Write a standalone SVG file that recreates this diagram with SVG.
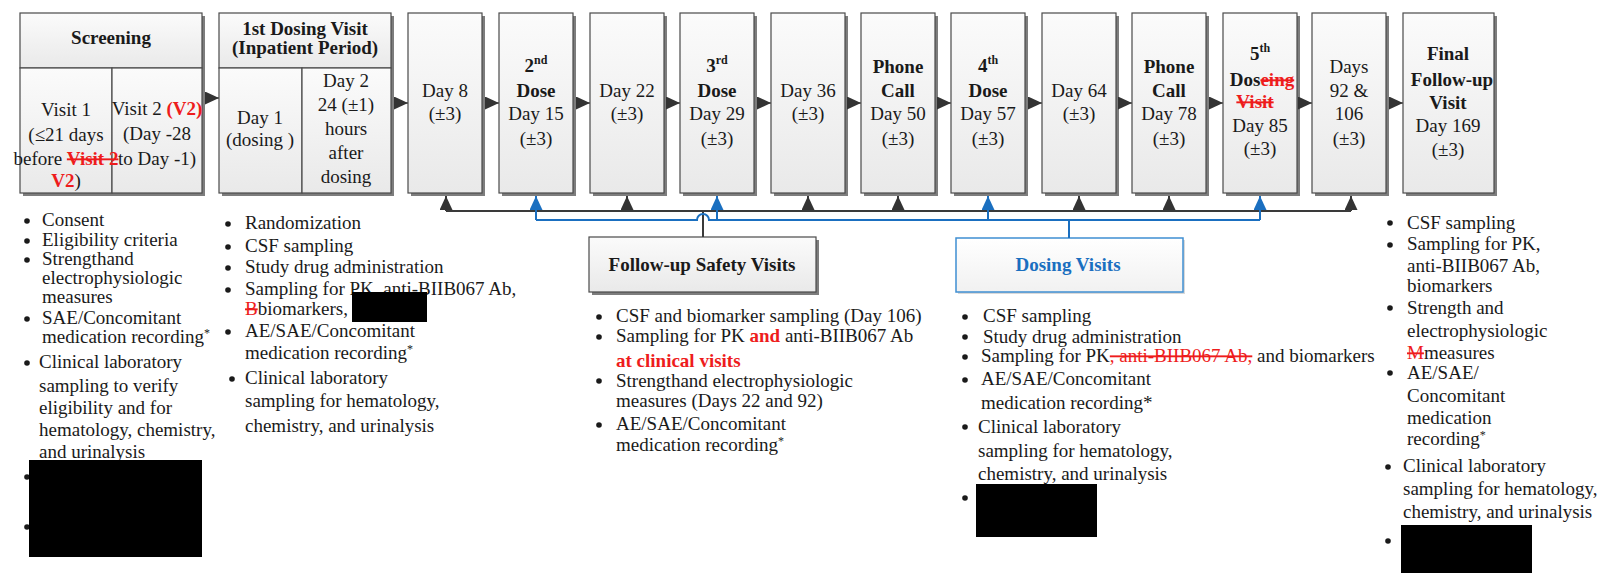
<svg xmlns="http://www.w3.org/2000/svg" width="1599" height="573" viewBox="0 0 1599 573">
<defs>
<linearGradient id="g" x1="0" y1="0" x2="0" y2="1">
<stop offset="0" stop-color="#fbfbfb"/>
<stop offset="1" stop-color="#e9e9e9"/>
</linearGradient>
<linearGradient id="gb" x1="0" y1="0" x2="0" y2="1">
<stop offset="0" stop-color="#ffffff"/>
<stop offset="1" stop-color="#f1f1f1"/>
</linearGradient>
<marker id="ad" markerUnits="userSpaceOnUse" markerWidth="16" markerHeight="16" refX="14" refY="6.5" orient="auto">
<path d="M0,0 L14,6.5 L0,13 z" fill="#333"/>
</marker>
<marker id="ab" markerUnits="userSpaceOnUse" markerWidth="16" markerHeight="16" refX="14" refY="6.5" orient="auto">
<path d="M0,0 L14,6.5 L0,13 z" fill="#1a6fc0"/>
</marker>
</defs>
<style>
.box{fill:url(#g);stroke:#4a4a4a;stroke-width:1.2}
.sh{fill:#7d7d7d}
.t{font-family:"Liberation Serif","Times New Roman",serif;font-size:19px;fill:#1a1a1a}
.b{font-weight:bold}
.m{text-anchor:middle}
.red{fill:#ee1c1c}
.st{text-decoration:line-through}
.sup{font-size:12px}
.bul{fill:#1a1a1a}
.cd{stroke:#3a3a3a;stroke-width:2;fill:none}
.cb{stroke:#1a6fc0;stroke-width:2;fill:none}
.fl{stroke:#555;stroke-width:1.5;fill:none}
.blk{fill:#000}
</style>
<rect width="1599" height="573" fill="#fff"/>

<g id="screening">
<rect class="sh" x="23" y="16" width="182" height="180"/>
<rect class="box" x="20" y="13" width="182" height="55"/>
<rect class="box" x="20" y="68" width="92" height="125"/>
<rect class="box" x="112" y="68" width="90" height="125"/>
<text class="t b m" x="111" y="44">Screening</text>
<text class="t m" x="66" y="116">Visit 1</text>
<text class="t m" x="66" y="141">(≤21 days</text>
<text class="t m" x="66" y="165">before <tspan class="b red st">Visit 2</tspan></text>
<text class="t m" x="66" y="187"><tspan class="b red">V2</tspan>)</text>
<text class="t m" x="157" y="115">Visit 2 <tspan class="b red">(V2)</tspan></text>
<text class="t m" x="157" y="140">(Day -28</text>
<text class="t m" x="157" y="165">to Day -1)</text>
</g>

<g id="dosing1">
<rect class="sh" x="222" y="16" width="172" height="180"/>
<rect class="box" x="219" y="13" width="172" height="55"/>
<rect class="box" x="219" y="68" width="83" height="125"/>
<rect class="box" x="302" y="68" width="89" height="125"/>
<text class="t b m" x="305" y="35">1st Dosing Visit</text>
<text class="t b m" x="305" y="54">(Inpatient Period)</text>
<text class="t m" x="260" y="124">Day  1</text>
<text class="t m" x="260" y="146">(dosing )</text>
<text class="t m" x="346" y="87">Day  2</text>
<text class="t m" x="346" y="111">24 (±1)</text>
<text class="t m" x="346" y="135">hours</text>
<text class="t m" x="346" y="159">after</text>
<text class="t m" x="346" y="183">dosing</text>
</g>

<g id="day8">
<rect class="sh" x="411" y="16" width="74" height="180"/>
<rect class="box" x="408" y="13" width="74" height="180"/>
<text class="t m" x="445" y="97">Day  8</text>
<text class="t m" x="445" y="120">(±3)</text>
</g>

<g id="dose2">
<rect class="sh" x="502" y="16" width="74" height="180"/>
<rect class="box" x="499" y="13" width="74" height="180"/>
<text class="t b m" x="536" y="72">2<tspan class="sup" dy="-8">nd</tspan></text>
<text class="t b m" x="536" y="97">Dose</text>
<text class="t m" x="536" y="120">Day  15</text>
<text class="t m" x="536" y="145">(±3)</text>
</g>

<g id="day22">
<rect class="sh" x="593" y="16" width="74" height="180"/>
<rect class="box" x="590" y="13" width="74" height="180"/>
<text class="t m" x="627" y="97">Day  22</text>
<text class="t m" x="627" y="120">(±3)</text>
</g>

<g id="dose3">
<rect class="sh" x="683" y="16" width="74" height="180"/>
<rect class="box" x="680" y="13" width="74" height="180"/>
<text class="t b m" x="717" y="72">3<tspan class="sup" dy="-8">rd</tspan></text>
<text class="t b m" x="717" y="97">Dose</text>
<text class="t m" x="717" y="120">Day  29</text>
<text class="t m" x="717" y="145">(±3)</text>
</g>

<g id="day36">
<rect class="sh" x="774" y="16" width="74" height="180"/>
<rect class="box" x="771" y="13" width="74" height="180"/>
<text class="t m" x="808" y="97">Day  36</text>
<text class="t m" x="808" y="120">(±3)</text>
</g>

<g id="phone50">
<rect class="sh" x="864" y="16" width="74" height="180"/>
<rect class="box" x="861" y="13" width="74" height="180"/>
<text class="t b m" x="898" y="73">Phone</text>
<text class="t b m" x="898" y="97">Call</text>
<text class="t m" x="898" y="120">Day  50</text>
<text class="t m" x="898" y="145">(±3)</text>
</g>

<g id="dose4">
<rect class="sh" x="954" y="16" width="74" height="180"/>
<rect class="box" x="951" y="13" width="74" height="180"/>
<text class="t b m" x="988" y="72">4<tspan class="sup" dy="-8">th</tspan></text>
<text class="t b m" x="988" y="97">Dose</text>
<text class="t m" x="988" y="120">Day  57</text>
<text class="t m" x="988" y="145">(±3)</text>
</g>

<g id="day64">
<rect class="sh" x="1045" y="16" width="74" height="180"/>
<rect class="box" x="1042" y="13" width="74" height="180"/>
<text class="t m" x="1079" y="97">Day  64</text>
<text class="t m" x="1079" y="120">(±3)</text>
</g>

<g id="phone78">
<rect class="sh" x="1135" y="16" width="74" height="180"/>
<rect class="box" x="1132" y="13" width="74" height="180"/>
<text class="t b m" x="1169" y="73">Phone</text>
<text class="t b m" x="1169" y="97">Call</text>
<text class="t m" x="1169" y="120">Day  78</text>
<text class="t m" x="1169" y="145">(±3)</text>
</g>

<g id="dose5">
<rect class="sh" x="1226" y="16" width="74" height="180"/>
<rect class="box" x="1223" y="13" width="74" height="180"/>
<text class="t b m" x="1260" y="60">5<tspan class="sup" dy="-8">th</tspan></text>
<text class="t b m" x="1262" y="86">Dos<tspan class="red st">eing</tspan></text>
<text class="t b m red st" x="1255" y="108">Visit</text>
<text class="t m" x="1260" y="132">Day  85</text>
<text class="t m" x="1260" y="155">(±3)</text>
</g>

<g id="days92">
<rect class="sh" x="1315" y="16" width="74" height="180"/>
<rect class="box" x="1312" y="13" width="74" height="180"/>
<text class="t m" x="1349" y="73">Days</text>
<text class="t m" x="1349" y="97">92 &amp;</text>
<text class="t m" x="1349" y="120">106</text>
<text class="t m" x="1349" y="145">(±3)</text>
</g>

<g id="final">
<rect class="sh" x="1406" y="16" width="91" height="180"/>
<rect class="box" x="1403" y="13" width="91" height="180"/>
<text class="t b m" x="1448" y="60">Final</text>
<text class="t b m" x="1452" y="86">Follow-up</text>
<text class="t b m" x="1448" y="109">Visit</text>
<text class="t m" x="1448" y="132">Day  169</text>
<text class="t m" x="1448" y="156">(±3)</text>
</g>

<g id="followup">
<rect class="sh" x="592" y="240" width="227" height="55"/>
<rect class="box" x="589" y="237" width="227" height="55"/>
<text class="t b m" x="702" y="271">Follow-up Safety Visits</text>
</g>

<g id="dosingvisits">
<rect x="958" y="240" width="227" height="54" fill="#d9d9d9"/>
<rect x="956" y="238" width="227" height="54" fill="url(#gb)" stroke="#3f8fd2" stroke-width="1.5"/>
<text class="t b m" x="1068" y="271" style="fill:#1a6fc0">Dosing Visits</text>
</g>

<g id="connectors">
<line class="fl" x1="205" y1="98" x2="219" y2="98" marker-end="url(#ad)"/>
<line class="fl" x1="394" y1="103" x2="408" y2="103" marker-end="url(#ad)"/>
<line class="fl" x1="485" y1="103" x2="499" y2="103" marker-end="url(#ad)"/>
<line class="fl" x1="576" y1="103" x2="590" y2="103" marker-end="url(#ad)"/>
<line class="fl" x1="666" y1="103" x2="680" y2="103" marker-end="url(#ad)"/>
<line class="fl" x1="757" y1="103" x2="771" y2="103" marker-end="url(#ad)"/>
<line class="fl" x1="847" y1="103" x2="861" y2="103" marker-end="url(#ad)"/>
<line class="fl" x1="937" y1="103" x2="951" y2="103" marker-end="url(#ad)"/>
<line class="fl" x1="1028" y1="103" x2="1042" y2="103" marker-end="url(#ad)"/>
<line class="fl" x1="1118" y1="103" x2="1132" y2="103" marker-end="url(#ad)"/>
<line class="fl" x1="1209" y1="103" x2="1223" y2="103" marker-end="url(#ad)"/>
<line class="fl" x1="1298" y1="103" x2="1312" y2="103" marker-end="url(#ad)"/>
<line class="fl" x1="1389" y1="103" x2="1403" y2="103" marker-end="url(#ad)"/>

<path class="cd" d="M446,211 H1351"/>
<path class="cd" d="M446,211 V196" marker-end="url(#ad)"/>
<path class="cd" d="M627,211 V196" marker-end="url(#ad)"/>
<path class="cd" d="M808,211 V196" marker-end="url(#ad)"/>
<path class="cd" d="M898,211 V196" marker-end="url(#ad)"/>
<path class="cd" d="M1079,211 V196" marker-end="url(#ad)"/>
<path class="cd" d="M1169,211 V196" marker-end="url(#ad)"/>
<path class="cd" d="M1351,211 V196" marker-end="url(#ad)"/>
<path class="cd" d="M703,237 V211"/>

<path class="cb" d="M536,220 H697 A6,6 0 0 1 709,220 H1260"/>
<path class="cb" d="M536,220 V196" marker-end="url(#ab)"/>
<path class="cb" d="M717,220 V196" marker-end="url(#ab)"/>
<path class="cb" d="M988,220 V196" marker-end="url(#ab)"/>
<path class="cb" d="M1260,220 V196" marker-end="url(#ab)"/>
<path class="cb" d="M1069,238 V220"/>
</g>

<g id="screening-list">
<circle class="bul" cx="27" cy="221" r="2.8"/>
<circle class="bul" cx="27" cy="241" r="2.8"/>
<circle class="bul" cx="27" cy="260" r="2.8"/>
<circle class="bul" cx="27" cy="319" r="2.8"/>
<circle class="bul" cx="27" cy="363" r="2.8"/>
<circle class="bul" cx="27" cy="477" r="2.8"/>
<circle class="bul" cx="27" cy="527" r="2.8"/>
<text class="t" x="42" y="226">Consent</text>
<text class="t" x="42" y="246">Eligibility criteria</text>
<text class="t" x="42" y="265">Strengthand</text>
<text class="t" x="42" y="284">electrophysiologic</text>
<text class="t" x="42" y="303">measures</text>
<text class="t" x="42" y="324">SAE/Concomitant</text>
<text class="t" x="42" y="343">medication recording<tspan class="sup" dy="-6">*</tspan></text>
<text class="t" x="39" y="368">Clinical laboratory</text>
<text class="t" x="39" y="392">sampling to verify</text>
<text class="t" x="39" y="414">eligibility and for</text>
<text class="t" x="39" y="436">hematology, chemistry,</text>
<text class="t" x="39" y="458">and urinalysis</text>
<rect class="blk" x="29" y="460" width="173" height="97"/>
</g>

<g id="dosing1-list">
<circle class="bul" cx="228" cy="224" r="2.8"/>
<circle class="bul" cx="228" cy="247" r="2.8"/>
<circle class="bul" cx="228" cy="268" r="2.8"/>
<circle class="bul" cx="228" cy="290" r="2.8"/>
<circle class="bul" cx="228" cy="332" r="2.8"/>
<circle class="bul" cx="232" cy="379" r="2.8"/>
<text class="t" x="245" y="229">Randomization</text>
<text class="t" x="245" y="252">CSF sampling</text>
<text class="t" x="245" y="273">Study drug administration</text>
<text class="t" x="245" y="295">Sampling for PK, anti-BIIB067 Ab,</text>
<text class="t" x="245" y="315"><tspan class="red st">B</tspan>biomarkers,</text>
<text class="t" x="245" y="337">AE/SAE/Concomitant</text>
<text class="t" x="245" y="359">medication recording<tspan class="sup" dy="-6">*</tspan></text>
<text class="t" x="245" y="384">Clinical laboratory</text>
<text class="t" x="245" y="407">sampling for hematology,</text>
<text class="t" x="245" y="432">chemistry, and urinalysis</text>
<rect class="blk" x="352" y="292" width="75" height="30"/>
</g>

<g id="followup-list">
<circle class="bul" cx="599" cy="317" r="2.8"/>
<circle class="bul" cx="599" cy="337" r="2.8"/>
<circle class="bul" cx="599" cy="381" r="2.8"/>
<circle class="bul" cx="599" cy="425" r="2.8"/>
<text class="t" x="616" y="322">CSF and biomarker sampling (Day 106)</text>
<text class="t" x="616" y="342">Sampling for PK <tspan class="b red">and</tspan> anti-BIIB067 Ab</text>
<text class="t b red" x="616" y="367">at clinical visits</text>
<text class="t" x="616" y="387">Strengthand  electrophysiologic</text>
<text class="t" x="616" y="407">measures (Days 22 and 92)</text>
<text class="t" x="616" y="430">AE/SAE/Concomitant</text>
<text class="t" x="616" y="451">medication recording<tspan class="sup" dy="-6">*</tspan></text>
</g>

<g id="dosing-list">
<circle class="bul" cx="965" cy="317" r="2.8"/>
<circle class="bul" cx="965" cy="337" r="2.8"/>
<circle class="bul" cx="965" cy="357" r="2.8"/>
<circle class="bul" cx="965" cy="380" r="2.8"/>
<circle class="bul" cx="965" cy="427" r="2.8"/>
<circle class="bul" cx="965" cy="498" r="2.8"/>
<text class="t" x="983" y="322">CSF sampling</text>
<text class="t" x="983" y="343">Study drug administration</text>
<text class="t" x="981" y="362">Sampling for PK<tspan class="red st">, anti-BIIB067 Ab,</tspan> and biomarkers</text>
<text class="t" x="981" y="385">AE/SAE/Concomitant</text>
<text class="t" x="981" y="409">medication recording*</text>
<text class="t" x="978" y="433">Clinical laboratory</text>
<text class="t" x="978" y="457">sampling for hematology,</text>
<text class="t" x="978" y="480">chemistry, and urinalysis</text>
<rect class="blk" x="976" y="484" width="121" height="53"/>
</g>

<g id="final-list">
<circle class="bul" cx="1390" cy="223" r="2.8"/>
<circle class="bul" cx="1390" cy="245" r="2.8"/>
<circle class="bul" cx="1390" cy="308" r="2.8"/>
<circle class="bul" cx="1390" cy="373" r="2.8"/>
<circle class="bul" cx="1388" cy="467" r="2.8"/>
<circle class="bul" cx="1388" cy="541" r="2.8"/>
<text class="t" x="1407" y="229">CSF sampling</text>
<text class="t" x="1407" y="250">Sampling for PK,</text>
<text class="t" x="1407" y="272">anti-BIIB067 Ab,</text>
<text class="t" x="1407" y="292">biomarkers</text>
<text class="t" x="1407" y="314">Strength and</text>
<text class="t" x="1407" y="337">electrophysiologic</text>
<text class="t" x="1407" y="359"><tspan class="red st">M</tspan>measures</text>
<text class="t" x="1407" y="379">AE/SAE/</text>
<text class="t" x="1407" y="402">Concomitant</text>
<text class="t" x="1407" y="424">medication</text>
<text class="t" x="1407" y="445">recording<tspan class="sup" dy="-6">*</tspan></text>
<text class="t" x="1403" y="472">Clinical laboratory</text>
<text class="t" x="1403" y="495">sampling for hematology,</text>
<text class="t" x="1403" y="518">chemistry, and urinalysis</text>
<rect class="blk" x="1401" y="525" width="131" height="48"/>
</g>
</svg>
